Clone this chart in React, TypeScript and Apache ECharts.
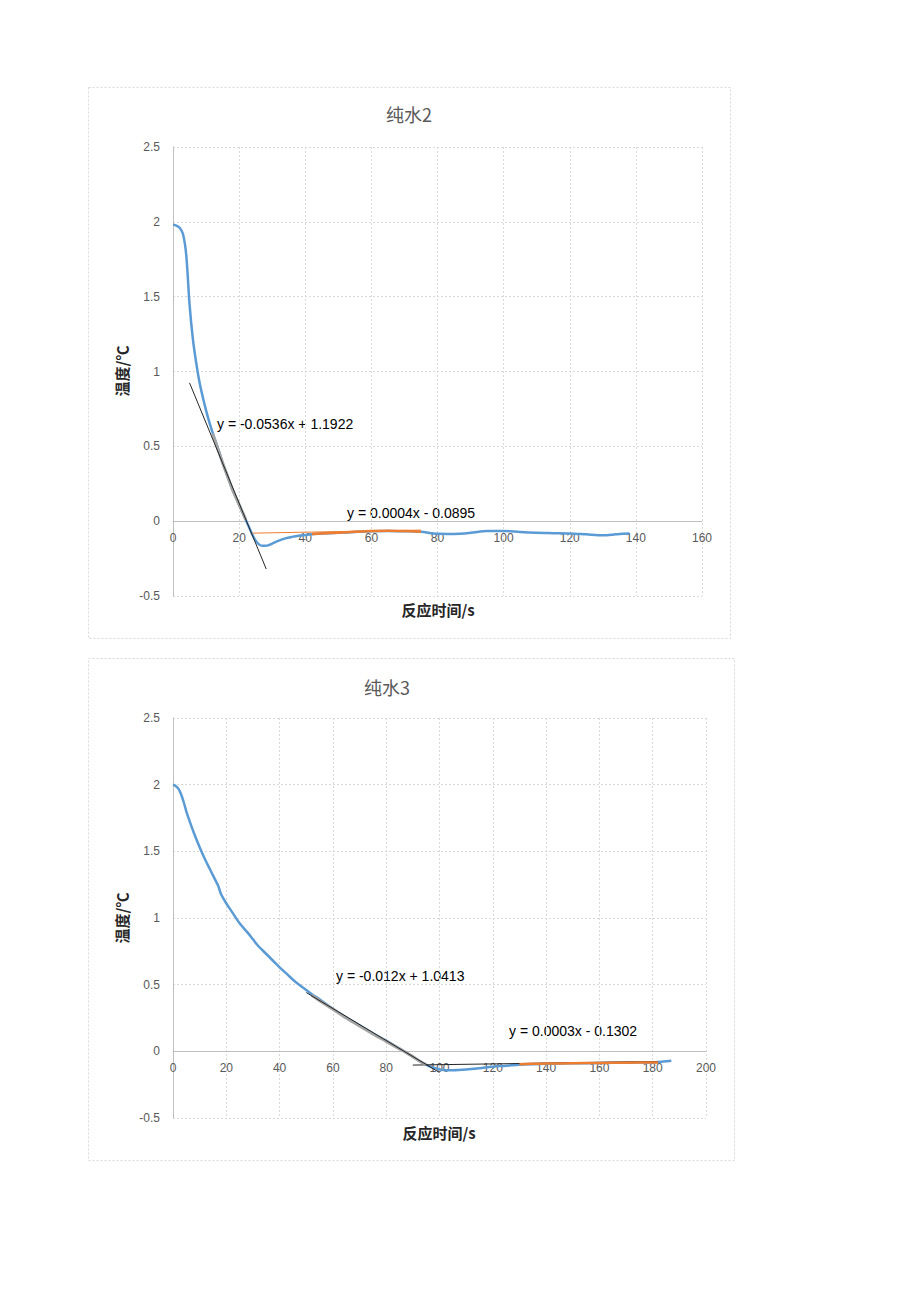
import React, { useEffect, useRef } from "react";
import * as echarts from "echarts";

// ---------- Data ----------
const titles = ["纯水2", "纯水3"];
const xAxisName = "反应时间/s";
const yAxisName = "温度/℃";

const xMax = [160, 200];
const xInterval = 20;
const yMin = -0.5;
const yMax = 2.5;
const yInterval = 0.5;

// Chart 1 (纯水2): full curve
const c1Time = [0, 1, 2, 3, 4, 5, 6, 7, 8, 9, 10, 11, 12, 13, 14, 15, 16, 17, 18, 19, 20, 21, 22, 23, 24, 25, 26, 27, 28, 29, 30, 32, 34, 36, 38, 40, 42, 45, 50, 55, 60, 65, 70, 75, 80, 85, 90, 95, 100, 105, 110, 115, 120, 125, 130, 133, 135, 138];
const c1Temp = [1.98, 1.975, 1.96, 1.92, 1.78, 1.45, 1.22, 1.06, 0.93, 0.83, 0.74, 0.66, 0.59, 0.525, 0.46, 0.39, 0.33, 0.27, 0.21, 0.16, 0.11, 0.06, 0.01, -0.04, -0.09, -0.13, -0.155, -0.165, -0.165, -0.16, -0.15, -0.13, -0.115, -0.105, -0.097, -0.092, -0.087, -0.083, -0.078, -0.072, -0.067, -0.065, -0.067, -0.071, -0.084, -0.085, -0.078, -0.066, -0.065, -0.073, -0.078, -0.080, -0.082, -0.088, -0.094, -0.09, -0.085, -0.082];
// Chart 1: fitted steep segment (gray) and plateau segment (orange)
const c1SteepTime = [12, 13, 14, 15, 16, 17, 18, 19, 20, 21, 22];
const c1SteepTemp = [0.585, 0.52, 0.455, 0.39, 0.33, 0.27, 0.21, 0.16, 0.11, 0.06, 0.01];
const c1FlatTime = [42, 45, 50, 55, 60, 65, 70, 75];
const c1FlatTemp = [-0.086, -0.082, -0.077, -0.071, -0.066, -0.064, -0.066, -0.07];
// Chart 1 trend lines (end points)
const c1TrendSteep = [[5, 0.924], [28.2, -0.32]];
const c1TrendFlat = [[24, -0.08], [75, -0.0595]];
const c1EqSteep = "y = -0.0536x + 1.1922";
const c1EqFlat = "y = 0.0004x - 0.0895";

// Chart 2 (纯水3): full curve
const c2Time = [0, 1, 2, 3, 4, 5, 6, 8, 10, 12, 14, 16, 17, 18, 20, 22, 25, 28, 30, 32, 35, 38, 40, 43, 46, 50, 52, 55, 60, 65, 70, 75, 80, 85, 88, 90, 93, 96, 99, 102, 105, 110, 115, 120, 125, 130, 135, 140, 150, 160, 170, 180, 184, 187];
const c2Temp = [2.0, 1.99, 1.97, 1.93, 1.87, 1.8, 1.74, 1.63, 1.53, 1.44, 1.36, 1.28, 1.24, 1.18, 1.11, 1.05, 0.96, 0.89, 0.84, 0.79, 0.73, 0.67, 0.63, 0.575, 0.52, 0.46, 0.43, 0.39, 0.32, 0.255, 0.195, 0.135, 0.08, 0.02, -0.015, -0.04, -0.08, -0.11, -0.13, -0.142, -0.142, -0.137, -0.127, -0.115, -0.108, -0.1, -0.096, -0.093, -0.09, -0.087, -0.085, -0.083, -0.077, -0.071];
const c2SteepTime = [52, 55, 60, 65, 70, 75, 80, 85, 88, 90, 93, 95];
const c2SteepTemp = [0.42, 0.38, 0.315, 0.25, 0.19, 0.13, 0.075, 0.018, -0.015, -0.04, -0.078, -0.1];
const c2FlatTime = [130, 135, 140, 150, 160, 170, 180, 182];
const c2FlatTemp = [-0.097, -0.094, -0.092, -0.089, -0.087, -0.085, -0.084, -0.083];
const c2TrendSteep = [[50, 0.441], [100, -0.159]];
const c2TrendFlat = [[90, -0.103], [182, -0.076]];
const c2EqSteep = "y = -0.012x + 1.0413";
const c2EqFlat = "y = 0.0003x - 0.1302";

// ---------- Helpers ----------
const zip = (xs: number[], ys: number[]) => xs.map((x, i) => [x, ys[i]]);

const BLUE = "#5B9BD5";
const ORANGE = "#ED7D31";
const GRAY = "#A5A5A5";
const TXT = "#595959";
const GRID = "#d9d9d9";
const AXIS = "#bfbfbf";
const NUM_FONT = "Liberation Sans, Arial, sans-serif";
const CJK_FONT = "'Noto Sans CJK SC', sans-serif";

function makeX(gridIndex: number, max: number, labelMargin: number) {
  return {
    gridIndex,
    type: "value",
    min: 0,
    max,
    interval: xInterval,
    axisLine: { show: true, onZero: true, lineStyle: { color: AXIS, width: 1 } },
    axisTick: { show: false },
    axisLabel: { color: TXT, fontSize: 12, fontFamily: NUM_FONT, margin: labelMargin },
    splitLine: { show: true, lineStyle: { color: GRID, width: 1, type: [2, 2] } },
  };
}

function makeY(gridIndex: number) {
  return {
    gridIndex,
    type: "value",
    min: yMin,
    max: yMax,
    interval: yInterval,
    axisLine: { show: true, lineStyle: { color: AXIS, width: 1 } },
    axisTick: { show: false },
    axisLabel: { color: TXT, fontSize: 12, fontFamily: NUM_FONT, margin: 13 },
    splitLine: { show: true, lineStyle: { color: GRID, width: 1, type: [2, 2] } },
  };
}

function lineSeries(idx: number, data: number[][], color: string, width: number, smooth: number | boolean, z: number) {
  return {
    type: "line",
    xAxisIndex: idx,
    yAxisIndex: idx,
    data,
    showSymbol: false,
    symbol: "none",
    smooth,
    lineStyle: { color, width },
    itemStyle: { color },
    z,
    silent: true,
  };
}

function text(x: number, y: number, str: string, font: string, fill: string, align = "left", rotation = 0) {
  return {
    type: "text",
    x,
    y,
    rotation,
    silent: true,
    style: {
      text: str,
      font,
      fill,
      textAlign: align,
      textVerticalAlign: "middle",
      align,
      verticalAlign: "middle",
    },
  };
}

function box(x: number, y: number, w: number, h: number) {
  return {
    type: "rect",
    silent: true,
    shape: { x, y, width: w, height: h },
    style: { fill: "none", stroke: GRID, lineWidth: 1, lineDash: [2, 2] },
  };
}

export default function App() {
  const ref = useRef<HTMLDivElement>(null);

  useEffect(() => {
    if (!ref.current) return;
    const chart = echarts.init(ref.current, undefined, { renderer: "svg" });
    const option = {
      animation: false,
      backgroundColor: "#ffffff",
      grid: [
        { left: 173, top: 147, width: 529, height: 449 },
        { left: 173, top: 718, width: 533, height: 400 },
      ],
      xAxis: [makeX(0, xMax[0], -64), makeX(1, xMax[1], -56)],
      yAxis: [makeY(0), makeY(1)],
      series: [
        lineSeries(0, zip(c1Time, c1Temp), BLUE, 2.5, 0.3, 2),
        lineSeries(0, zip(c1FlatTime, c1FlatTemp), ORANGE, 2.5, 0.3, 3),
        lineSeries(0, zip(c1SteepTime, c1SteepTemp), GRAY, 3, 0.3, 3),
        lineSeries(0, c1TrendFlat, ORANGE, 1, false, 4),
        lineSeries(0, c1TrendSteep, "#262626", 1, false, 5),
        lineSeries(1, zip(c2Time, c2Temp), BLUE, 2.5, 0.3, 2),
        lineSeries(1, c2TrendFlat, "#262626", 1, false, 3),
        lineSeries(1, zip(c2FlatTime, c2FlatTemp), ORANGE, 2.5, 0.3, 4),
        lineSeries(1, zip(c2SteepTime, c2SteepTemp), GRAY, 3, 0.3, 4),
        lineSeries(1, c2TrendSteep, "#262626", 1, false, 5),
      ],
      graphic: [
        box(88.5, 87.5, 642, 551),
        box(88.5, 658.5, 646, 502),
        text(409, 114, titles[0], `18px ${CJK_FONT}`, TXT, "center"),
        text(387, 687, titles[1], `18px ${CJK_FONT}`, TXT, "center"),
        text(438, 609, xAxisName, `bold 15px ${CJK_FONT}`, "#262626", "center"),
        text(439, 1132, xAxisName, `bold 15px ${CJK_FONT}`, "#262626", "center"),
        text(121, 371, yAxisName, `bold 15px ${CJK_FONT}`, "#262626", "center", Math.PI / 2),
        text(121, 918, yAxisName, `bold 15px ${CJK_FONT}`, "#262626", "center", Math.PI / 2),
        text(217, 424, c1EqSteep, `14px ${NUM_FONT}`, "#000000", "left"),
        text(347, 513, c1EqFlat, `14px ${NUM_FONT}`, "#000000", "left"),
        text(336, 976, c2EqSteep, `14px ${NUM_FONT}`, "#000000", "left"),
        text(509, 1031, c2EqFlat, `14px ${NUM_FONT}`, "#000000", "left"),
      ],
    };
    chart.setOption(option as any);
    return () => chart.dispose();
  }, []);

  return (
    <div
      ref={ref}
      style={{ position: "absolute", left: 0, top: 0, width: 920, height: 1302, background: "#fff" }}
    />
  );
}
